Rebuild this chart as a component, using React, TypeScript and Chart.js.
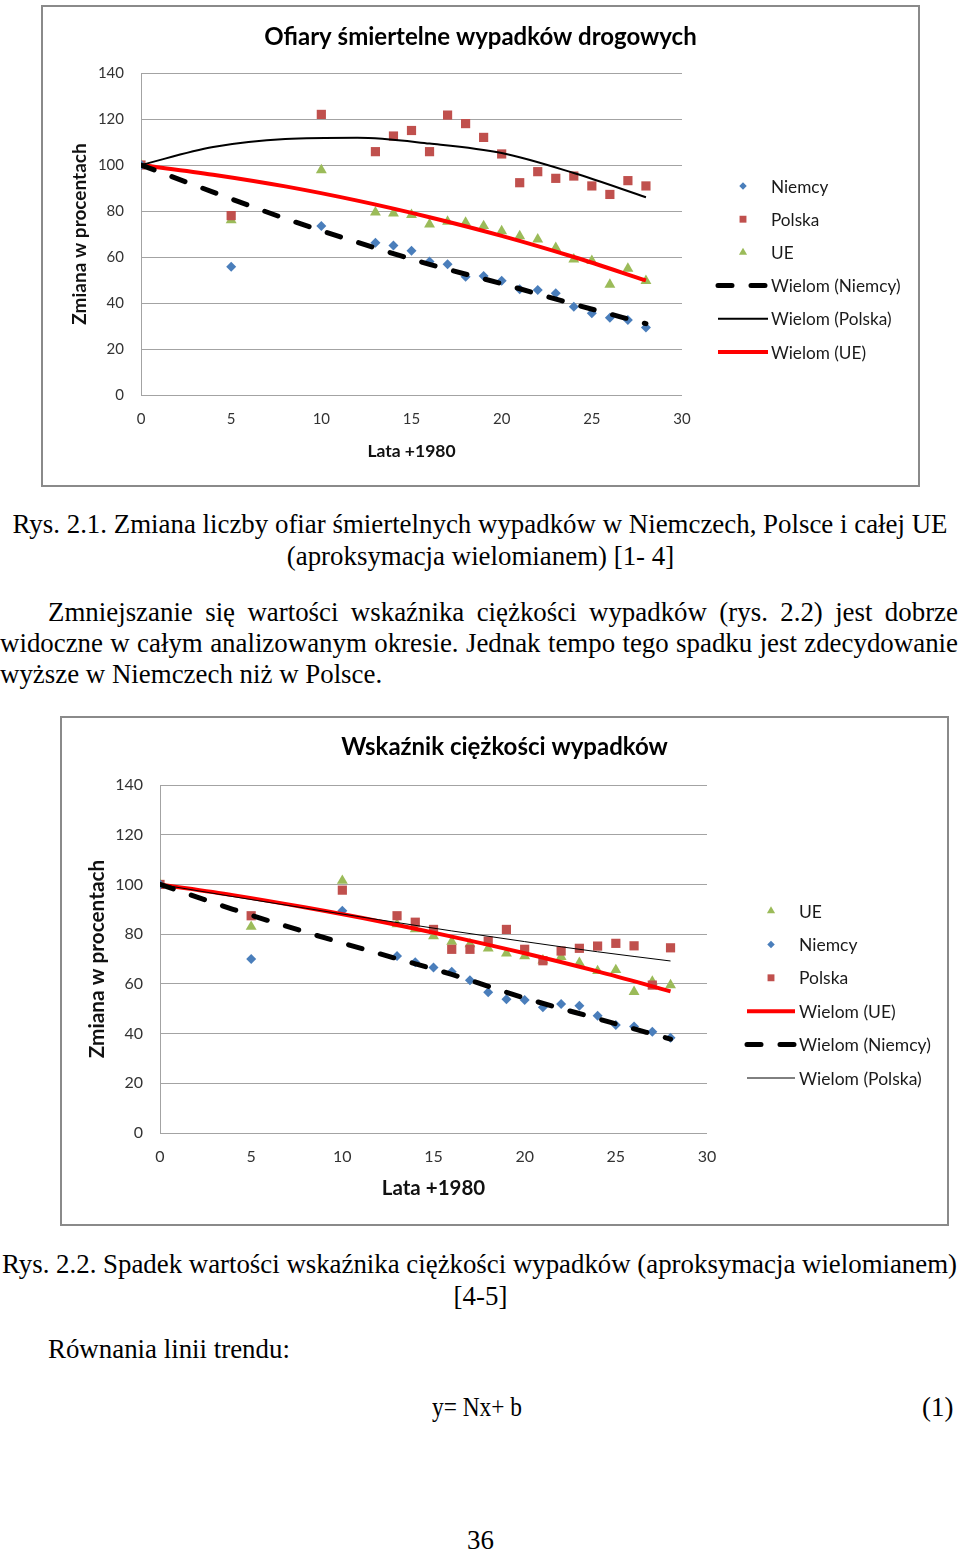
import React, { useEffect, useMemo, useRef } from "react";
import { Chart, registerables } from "chart.js";

Chart.register(...registerables);

// ---------- data ----------
const YEARS = [0, 5, 10, 13, 14, 15, 16, 17, 18, 19, 20, 21, 22, 23, 24, 25, 26, 27, 28];
const TREND_YEARS = [0, 4, 8, 12, 16, 20, 24, 28];
const X_TICKS = [0, 5, 10, 15, 20, 25, 30];
const Y_TICKS = [0, 20, 40, 60, 80, 100, 120, 140];

// Rys. 2.1 – Ofiary śmiertelne wypadków drogowych
const fatalNiemcy = [100, 55.8, 73.5, 66.2, 65, 62.7, 58, 56.8, 51.4, 51.7, 49.7, 46, 45.6, 44.2, 38.4, 35.5, 33.6, 32.6, 29.3];
const fatalPolska = [100, 78, 122, 105.8, 112.6, 115, 105.8, 121.7, 118, 112, 104.8, 92.3, 97.1, 94.2, 95.2, 90.9, 87.2, 93.2, 90.9];
const fatalUE = [100, 76, 97.8, 79.4, 79, 78.3, 74.2, 75.4, 75, 73.5, 71.3, 69.1, 67.7, 64, 59, 58.3, 48, 55, 49.6];
const fatalTrendNiemcy = [100, 88.2, 76.7, 66.4, 56.8, 48.4, 39.5, 31];
const fatalTrendPolska = [100, 107.8, 111.3, 111.8, 109.3, 105.2, 96.5, 86];
const fatalTrendUE = [100, 95.8, 90.7, 84.5, 77.3, 69.2, 60, 49.8];

// Rys. 2.2 – Wskaźnik ciężkości wypadków
const sevNiemcy = [100, 70, 89.4, 71.2, 68.7, 66.6, 64.9, 61.5, 56.6, 53.8, 53.5, 50.6, 51.9, 51.2, 47.2, 43.4, 42.8, 40.7, 38.3];
const sevPolska = [100, 87.4, 97.7, 87.4, 84.8, 81.9, 73.9, 73.9, 77.2, 81.9, 73.9, 69.3, 73.2, 74.3, 75.2, 76.3, 75.3, 59.5, 74.5];
const sevUE = [100, 83, 101.5, 84, 82, 79.2, 77, 76, 74.3, 72.3, 71.2, 69.5, 70.9, 68.5, 65.2, 65.6, 56.8, 60.9, 59.5];
const sevTrendNiemcy = [100, 90, 80.8, 72.2, 63.8, 54.3, 46, 37.8];
const sevTrendPolska = [100, 95.1, 90.4, 85.8, 81.3, 77, 72.9, 69.2];
const sevTrendUE = [100, 95.7, 90.7, 85.2, 79, 72.3, 65, 57];

// ---------- styles ----------
const BLUE = "#4A7EBB";
const RED_SQ = "#C0504D";
const GREEN = "#9BBB59";
const CHART_FONT = 'Lato, "Open Sans", "DejaVu Sans", sans-serif';

const xy = (xs: number[], ys: number[]) => xs.map((x, i) => ({ x, y: ys[i] }));

function pointSet(label: string, ys: number[], color: string, style: string, radius: number) {
  return {
    label,
    data: xy(YEARS, ys),
    showLine: false,
    pointStyle: style,
    pointRadius: radius,
    pointBackgroundColor: color,
    pointBorderColor: color,
    pointBorderWidth: 0,
    backgroundColor: color,
    borderColor: color,
    order: 2,
  };
}

function trendSet(label: string, ys: number[], color: string, width: number, dash: number[] = []) {
  return {
    label,
    data: xy(TREND_YEARS, ys),
    showLine: true,
    pointRadius: 0,
    borderColor: color,
    backgroundColor: color,
    borderWidth: width,
    borderDash: dash,
    borderCapStyle: dash.length ? "round" : "butt",
    cubicInterpolationMode: "monotone",
    fill: false,
    order: 1,
  };
}

function drawMarker(ctx: CanvasRenderingContext2D, style: string, x: number, y: number, r: number, color: string) {
  ctx.fillStyle = color;
  ctx.beginPath();
  if (style === "rectRot") {
    ctx.moveTo(x, y - r);
    ctx.lineTo(x + r, y);
    ctx.lineTo(x, y + r);
    ctx.lineTo(x - r, y);
  } else if (style === "rect") {
    const s = r * Math.SQRT1_2;
    ctx.rect(x - s, y - s, 2 * s, 2 * s);
  } else {
    const a = (2 * Math.PI) / 3;
    ctx.moveTo(x, y - r);
    ctx.lineTo(x + Math.sin(a) * r, y - Math.cos(a) * r);
    ctx.lineTo(x + Math.sin(2 * a) * r, y - Math.cos(2 * a) * r);
  }
  ctx.closePath();
  ctx.fill();
}

const sideLegend = {
  id: "sideLegend",
  afterDraw(chart: any, _args: any, opts: any) {
    const { ctx } = chart;
    const ds = chart.data.datasets;
    opts.order.forEach((idx: number, i: number) => {
      const d = ds[idx];
      const y = opts.y0 + i * opts.dy;
      ctx.save();
      if (d.showLine) {
        ctx.strokeStyle = d.borderColor;
        ctx.lineWidth = d.borderWidth;
        ctx.lineCap = d.borderCapStyle;
        ctx.setLineDash(d.borderDash || []);
        ctx.beginPath();
        ctx.moveTo(opts.lineX0, y);
        ctx.lineTo(opts.lineX1, y);
        ctx.stroke();
        ctx.setLineDash([]);
      } else {
        drawMarker(ctx, d.pointStyle, opts.markerX, y, d.pointRadius * opts.markerScale, d.pointBackgroundColor);
      }
      ctx.fillStyle = "#1a1a1a";
      ctx.font = `${opts.fontSize}px ${CHART_FONT}`;
      ctx.textBaseline = "middle";
      ctx.textAlign = "left";
      ctx.fillText(d.label, opts.textX, y + 1);
      ctx.restore();
    });
  },
};

type Spec = {
  title: string;
  titlePad: [number, number];
  datasets: any[];
  tickSize: number;
  xTickPad: number;
  yTickPad: number;
  yTitleSize: number;
  xTitleSize: number;
  yTitlePad: number;
  xTitlePad: number;
  yWidth: number;
  xHeight: number;
  rightWidth: number;
  legend: any;
};

function buildConfig(spec: Spec): any {
  const tickFont = { family: CHART_FONT, size: spec.tickSize, lineHeight: 1.2 };
  return {
    type: "scatter",
    data: { datasets: spec.datasets },
    options: {
      animation: false,
      responsive: false,
      devicePixelRatio: 1,
      layout: { padding: 0 },
      plugins: {
        legend: { display: false },
        tooltip: { enabled: false },
        title: {
          display: true,
          text: spec.title,
          color: "#000",
          font: { family: CHART_FONT, size: 24, weight: "bold", lineHeight: 1.2 },
          padding: { top: spec.titlePad[0], bottom: spec.titlePad[1] },
        },
        sideLegend: spec.legend,
      },
      scales: {
        x: {
          type: "linear",
          min: 0,
          max: 30,
          afterBuildTicks: (s: any) => {
            s.ticks = X_TICKS.map((v) => ({ value: v }));
          },
          grid: { display: false, drawTicks: false },
          border: { display: false },
          ticks: { padding: spec.xTickPad, color: "#333", font: tickFont, maxRotation: 0, autoSkip: false },
          title: {
            display: true,
            text: "Lata +1980",
            color: "#111",
            font: { family: CHART_FONT, size: spec.xTitleSize, weight: "bold", lineHeight: 1.2 },
            padding: { top: 0, bottom: spec.xTitlePad },
          },
          afterFit: (s: any) => {
            s.height = spec.xHeight;
          },
        },
        y: {
          type: "linear",
          position: "left",
          min: 0,
          max: 140,
          afterBuildTicks: (s: any) => {
            s.ticks = Y_TICKS.map((v) => ({ value: v }));
          },
          grid: { color: "#a3a3a3", lineWidth: 1, drawTicks: false },
          border: { display: true, color: "#a3a3a3", width: 1 },
          ticks: { padding: spec.yTickPad, color: "#333", font: tickFont },
          title: {
            display: true,
            text: "Zmiana w procentach",
            color: "#111",
            font: { family: CHART_FONT, size: spec.yTitleSize, weight: "bold", lineHeight: 1.2 },
            padding: { top: spec.yTitlePad, bottom: 0 },
          },
          afterFit: (s: any) => {
            s.width = spec.yWidth;
          },
        },
        yR: {
          type: "linear",
          position: "right",
          min: 0,
          max: 140,
          grid: { display: false, drawTicks: false },
          border: { display: false },
          ticks: { display: false },
          afterFit: (s: any) => {
            s.width = spec.rightWidth;
          },
        },
      },
    },
    plugins: [sideLegend],
  };
}

const spec1: Spec = {
  title: "Ofiary śmiertelne wypadków drogowych",
  titlePad: [15.6, 21.6],
  datasets: [
    pointSet("Niemcy", fatalNiemcy, BLUE, "rectRot", 5),
    pointSet("Polska", fatalPolska, RED_SQ, "rect", 6.5),
    pointSet("UE", fatalUE, GREEN, "triangle", 6.3),
    trendSet("Wielom (Niemcy)", fatalTrendNiemcy, "#000", 5, [14, 19]),
    trendSet("Wielom (Polska)", fatalTrendPolska, "#000", 2),
    trendSet("Wielom (UE)", fatalTrendUE, "#FF0000", 4),
  ],
  tickSize: 15,
  xTickPad: 15,
  yTickPad: 17,
  yTitleSize: 19,
  xTitleSize: 17.5,
  yTitlePad: 25.6,
  xTitlePad: 23.5,
  yWidth: 98,
  xHeight: 90,
  rightWidth: 236,
  legend: { order: [0, 1, 2, 3, 4, 5], markerX: 700, lineX0: 675, lineX1: 725, textX: 728, y0: 179, dy: 33.2, fontSize: 17.2, markerScale: 0.75 },
};

const spec2: Spec = {
  title: "Wskaźnik ciężkości wypadków",
  titlePad: [14.6, 23.6],
  datasets: [
    pointSet("Niemcy", sevNiemcy, BLUE, "rectRot", 5),
    pointSet("Polska", sevPolska, RED_SQ, "rect", 6.5),
    pointSet("UE", sevUE, GREEN, "triangle", 6.3),
    trendSet("Wielom (Niemcy)", sevTrendNiemcy, "#000", 5, [14, 19]),
    trendSet("Wielom (Polska)", sevTrendPolska, "#000", 1),
    trendSet("Wielom (UE)", sevTrendUE, "#FF0000", 4),
  ],
  tickSize: 16,
  xTickPad: 14.4,
  yTickPad: 17,
  yTitleSize: 20.8,
  xTitleSize: 20.5,
  yTitlePad: 22.5,
  xTitlePad: 23.7,
  yWidth: 98,
  xHeight: 91,
  rightWidth: 240,
  legend: { order: [2, 0, 1, 5, 3, 4], markerX: 709, lineX0: 685, lineX1: 733, textX: 737, y0: 193, dy: 33.4, fontSize: 17.5, markerScale: 0.75 },
};

function ChartPanel({ left, top, w, h, spec }: { left: number; top: number; w: number; h: number; spec: Spec }) {
  const ref = useRef<HTMLCanvasElement>(null);
  useEffect(() => {
    const chart = new Chart(ref.current as HTMLCanvasElement, buildConfig(spec));
    return () => chart.destroy();
  }, []);
  return (
    <div
      style={{
        position: "absolute",
        left,
        top,
        width: w,
        height: h,
        border: "2px solid #8a8a8a",
        boxSizing: "border-box",
        background: "#fff",
      }}
    >
      <canvas ref={ref} width={w - 4} height={h - 4} style={{ display: "block", width: w - 4, height: h - 4 }} />
    </div>
  );
}

// ---------- page text ----------
const SERIF = '"Liberation Serif", "Times New Roman", serif';
const FS = 27;
const CAPTION1 = "Rys. 2.1. Zmiana liczby ofiar śmiertelnych wypadków w Niemczech, Polsce i całej UE";

let measureCtx: CanvasRenderingContext2D | null = null;
function measure(text: string): number {
  if (!measureCtx) {
    measureCtx = document.createElement("canvas").getContext("2d") as CanvasRenderingContext2D;
  }
  measureCtx.font = `${FS}px ${SERIF}`;
  return measureCtx.measureText(text).width;
}

function TextLine({
  text,
  baseline,
  left,
  width,
  align,
  s,
  fit,
}: {
  text: string;
  baseline: number;
  left: number;
  width: number;
  align: string;
  s: number;
  fit?: number;
}) {
  const nat = measure(text);
  const fits = nat * s <= width - 2;
  let sc = fits ? s : width / (nat + 1);
  if (fit && nat > 0) sc = fit / nat;
  const justify = align === "justify" && fits && !fit;
  const al = align === "justify" ? (justify ? "justify" : "left") : align;
  return (
    <div
      style={{
        position: "absolute",
        left,
        top: baseline - 25.1,
        width,
        height: 32,
        fontFamily: SERIF,
        fontSize: FS,
        lineHeight: "32px",
        color: "#000",
      }}
    >
      <div
        style={{
          width: width / sc,
          transform: `scaleX(${sc})`,
          transformOrigin: "left top",
          textAlign: al as any,
          textAlignLast: al as any,
          whiteSpace: justify ? "normal" : "nowrap",
        }}
      >
        {text}
      </div>
    </div>
  );
}

export default function App() {
  const s = useMemo(() => {
    const w = measure(CAPTION1);
    return w > 0 ? Math.min(1, 935 / w) : 0.85;
  }, []);
  return (
    <div style={{ position: "fixed", left: 0, top: 0, width: 960, height: 1554, background: "#fff", overflow: "hidden" }}>
      <ChartPanel left={41} top={5} w={879} h={482} spec={spec1} />
      <TextLine s={s} text={CAPTION1} baseline={533} left={0} width={960} align="center" />
      <TextLine s={s} text="(aproksymacja wielomianem) [1- 4]" baseline={565} left={0} width={961} align="center" />
      <TextLine s={s} text="Zmniejszanie się wartości wskaźnika ciężkości wypadków (rys. 2.2) jest dobrze" baseline={621} left={48} width={910} align="justify" />
      <TextLine s={s} text="widoczne w całym analizowanym okresie. Jednak tempo tego spadku jest zdecydowanie" baseline={652} left={0} width={958} align="justify" />
      <TextLine s={s} text="wyższe w Niemczech niż w Polsce." baseline={683} left={0} width={700} align="left" />
      <ChartPanel left={60} top={716} w={889} h={510} spec={spec2} />
      <TextLine s={s} text="Rys. 2.2. Spadek wartości wskaźnika ciężkości wypadków (aproksymacja wielomianem)" baseline={1273} left={2} width={956} align="justify" />
      <TextLine s={s} text="[4-5]" baseline={1305} left={0} width={961} align="center" />
      <TextLine s={s} text="Równania linii trendu:" baseline={1358} left={48} width={400} align="left" />
      <TextLine s={s} text="y= Nx+ b" baseline={1416} left={432} width={200} align="left" fit={90} />
      <TextLine s={s} text="(1)" baseline={1416} left={922} width={36} align="left" />
      <TextLine s={s} text="36" baseline={1549} left={0} width={961} align="center" />
    </div>
  );
}
